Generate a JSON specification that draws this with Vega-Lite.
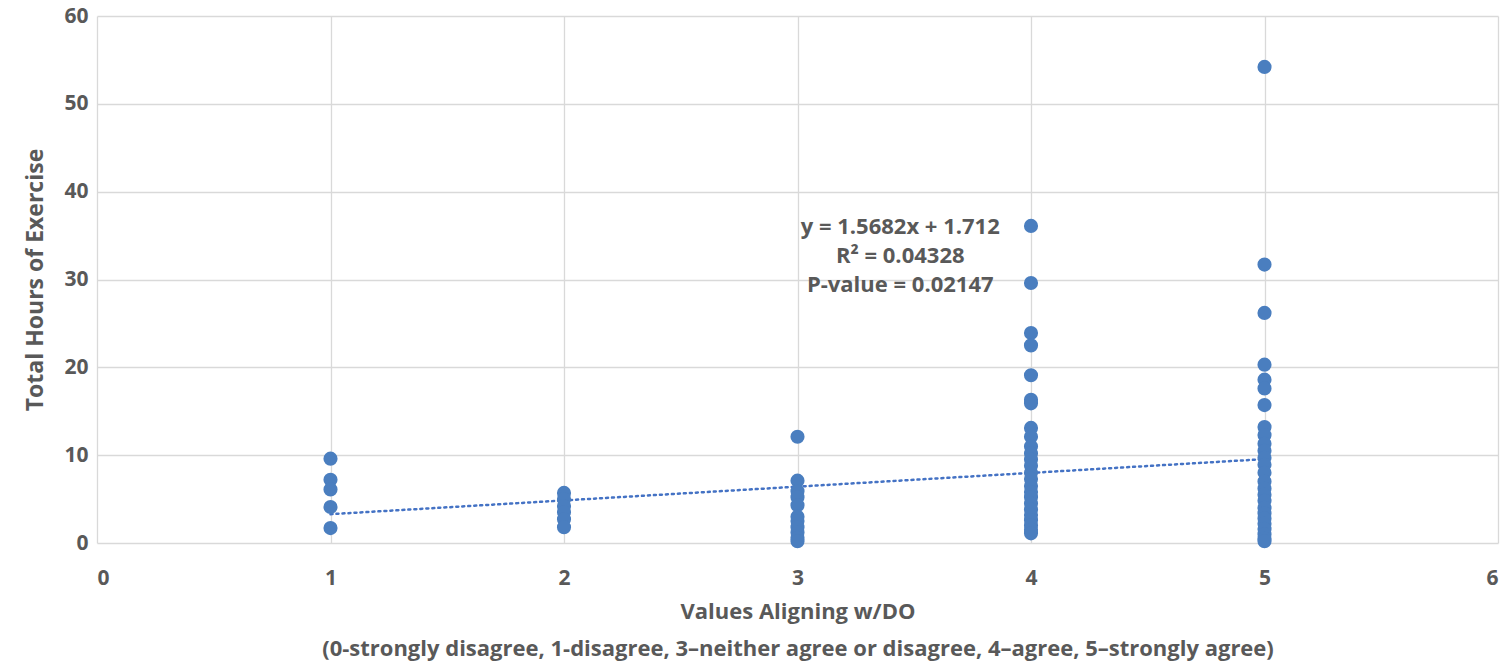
{
  "$schema": "https://vega.github.io/schema/vega-lite/v6.json",
  "autosize": "none",
  "width": 1401,
  "height": 527,
  "padding": {"left": 97, "top": 16, "right": 11, "bottom": 120},
  "background": "white",
  "config": {
    "view": {"stroke": null},
    "font": "Open Sans",
    "axis": {
      "domain": false,
      "ticks": false,
      "grid": true,
      "gridColor": "#d9d9d9",
      "gridWidth": 1.3,
      "labelFont": "Open Sans",
      "labelFontSize": 21,
      "labelFontWeight": "bold",
      "labelColor": "#595959",
      "titleFont": "Open Sans",
      "titleFontWeight": "bold",
      "titleColor": "#595959"
    }
  },
  "datasets": {
    "points": [
      {"values": 1, "hours": 9.6},
      {"values": 1, "hours": 7.2},
      {"values": 1, "hours": 6.1},
      {"values": 1, "hours": 4.1},
      {"values": 1, "hours": 1.7},
      {"values": 2, "hours": 5.7},
      {"values": 2, "hours": 5.0},
      {"values": 2, "hours": 4.2},
      {"values": 2, "hours": 3.5},
      {"values": 2, "hours": 2.7},
      {"values": 2, "hours": 1.8},
      {"values": 3, "hours": 12.1},
      {"values": 3, "hours": 7.1},
      {"values": 3, "hours": 5.9},
      {"values": 3, "hours": 5.2},
      {"values": 3, "hours": 4.3},
      {"values": 3, "hours": 3.0},
      {"values": 3, "hours": 2.5},
      {"values": 3, "hours": 1.8},
      {"values": 3, "hours": 1.2},
      {"values": 3, "hours": 0.6},
      {"values": 3, "hours": 0.2},
      {"values": 4, "hours": 36.1},
      {"values": 4, "hours": 29.6},
      {"values": 4, "hours": 23.9},
      {"values": 4, "hours": 22.5},
      {"values": 4, "hours": 19.1},
      {"values": 4, "hours": 16.3},
      {"values": 4, "hours": 15.9},
      {"values": 4, "hours": 13.1},
      {"values": 4, "hours": 12.1},
      {"values": 4, "hours": 11.0},
      {"values": 4, "hours": 10.2},
      {"values": 4, "hours": 9.5},
      {"values": 4, "hours": 8.8},
      {"values": 4, "hours": 8.0},
      {"values": 4, "hours": 7.3},
      {"values": 4, "hours": 6.5},
      {"values": 4, "hours": 5.8},
      {"values": 4, "hours": 5.2},
      {"values": 4, "hours": 4.5},
      {"values": 4, "hours": 3.8},
      {"values": 4, "hours": 3.2},
      {"values": 4, "hours": 2.6},
      {"values": 4, "hours": 2.0},
      {"values": 4, "hours": 1.5},
      {"values": 4, "hours": 1.1},
      {"values": 5, "hours": 54.2},
      {"values": 5, "hours": 31.7},
      {"values": 5, "hours": 26.2},
      {"values": 5, "hours": 20.3},
      {"values": 5, "hours": 18.6},
      {"values": 5, "hours": 17.6},
      {"values": 5, "hours": 15.7},
      {"values": 5, "hours": 13.2},
      {"values": 5, "hours": 12.3},
      {"values": 5, "hours": 11.3},
      {"values": 5, "hours": 10.5},
      {"values": 5, "hours": 9.7},
      {"values": 5, "hours": 8.9},
      {"values": 5, "hours": 8.0},
      {"values": 5, "hours": 7.0},
      {"values": 5, "hours": 6.2},
      {"values": 5, "hours": 5.5},
      {"values": 5, "hours": 4.8},
      {"values": 5, "hours": 4.0},
      {"values": 5, "hours": 3.4},
      {"values": 5, "hours": 2.8},
      {"values": 5, "hours": 2.2},
      {"values": 5, "hours": 1.6},
      {"values": 5, "hours": 1.0},
      {"values": 5, "hours": 0.5},
      {"values": 5, "hours": 0.2}
    ],
    "trend": [
      {"values": 1, "hours": 3.28},
      {"values": 5, "hours": 9.55}
    ]
  },
  "layer": [
    {
      "data": {"name": "trend"},
      "mark": {"type": "line", "color": "#4472c4", "strokeWidth": 2.5, "strokeDash": [2, 4], "strokeCap": "round"},
      "encoding": {
        "x": {
          "field": "values", "type": "quantitative",
          "scale": {"domain": [0, 6], "nice": false, "zero": false},
          "axis": {
            "values": [0, 1, 2, 3, 4, 5, 6],
            "format": "d",
            "labelPadding": 24,
            "title": ["Values Aligning w/DO", "(0-strongly disagree, 1-disagree, 3\u2013neither agree or disagree, 4\u2013agree, 5\u2013strongly agree)"],
            "titleFontSize": 22,
            "titleLineHeight": 37,
            "titlePadding": 13
          }
        },
        "y": {
          "field": "hours", "type": "quantitative",
          "scale": {"domain": [0, 60], "nice": false},
          "axis": {
            "values": [0, 10, 20, 30, 40, 50, 60],
            "format": "d",
            "labelPadding": 9,
            "title": "Total Hours of Exercise",
            "titleFontSize": 23,
            "titlePadding": 16
          }
        }
      }
    },
    {
      "data": {"name": "points"},
      "mark": {"type": "circle", "size": 200, "opacity": 1, "color": "#4a7ebf"},
      "encoding": {
        "x": {"field": "values", "type": "quantitative"},
        "y": {"field": "hours", "type": "quantitative"}
      }
    },
    {
      "data": {"values": [{}]},
      "mark": {
        "type": "text",
        "text": ["y = 1.5682x + 1.712", "R\u00b2 = 0.04328", "P-value = 0.02147"],
        "font": "Open Sans",
        "fontSize": 22,
        "fontWeight": "bold",
        "color": "#595959",
        "align": "center",
        "baseline": "middle",
        "lineHeight": 29
      },
      "encoding": {
        "x": {"datum": 3.44, "type": "quantitative"},
        "y": {"datum": 36.0, "type": "quantitative"}
      }
    }
  ]
}
